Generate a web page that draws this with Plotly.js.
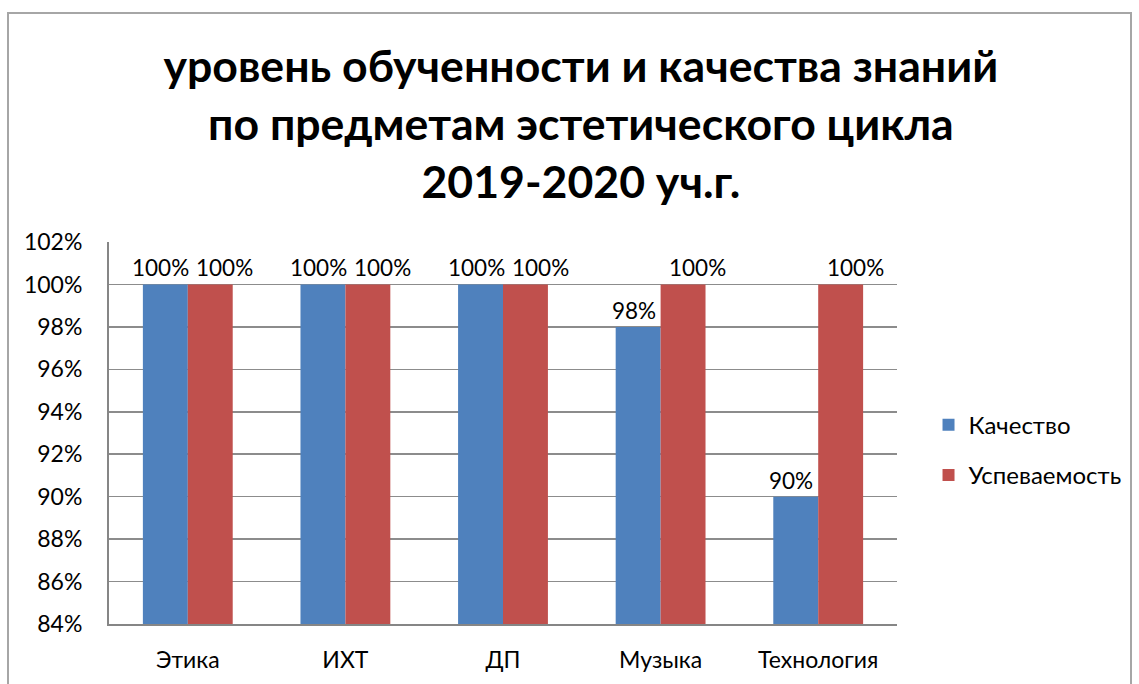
<!DOCTYPE html>
<html lang="ru">
<head>
    <meta charset="UTF-8">
    <title>Уровень обученности</title>
    <script src="https://cdn.plot.ly/plotly-3.0.1.min.js"></script>
    <style>
        body {
            margin: 0;
            background: white;
            overflow: hidden;
        }
        .frame {
            position: absolute;
            left: 7px;
            top: 12px;
            width: 1121px;
            height: 700px;
            border: 2px solid #a6a6a6;
        }
        #plot {
            position: absolute;
            left: 0;
            top: 0;
            width: 1139px;
            height: 684px;
        }
    </style>
</head>
<body>
    <div class="frame"></div>
    <div id="plot"></div>

    <script>
        const subjects = ['Этика', 'ИХТ', 'ДП', 'Музыка', 'Технология'];
        const quality = [100, 100, 100, 98, 90];
        const progress = [100, 100, 100, 100, 100];
        const yTicks = [84, 86, 88, 90, 92, 94, 96, 98, 100, 102];

        const font = 'Lato, "Open Sans", sans-serif';

        function makeTrace(name, values, color) {
            return {
                type: 'bar',
                name: name,
                legendgroup: name,
                x: subjects,
                y: values,
                marker: { color: color },
                hoverinfo: 'none'
            };
        }

        const traces = [
            makeTrace('Качество', quality, '#4f81bd'),
            makeTrace('Успеваемость', progress, '#c0504d')
        ];

        // value labels above bars, pushed a little apart like in Excel
        const labels = [];
        subjects.forEach((s, i) => {
            labels.push({
                x: s, y: quality[i], text: quality[i] + '%',
                xshift: -27, yshift: 1, yanchor: 'bottom', showarrow: false,
                font: { family: font, size: 22.5, color: '#000' }
            });
            labels.push({
                x: s, y: progress[i], text: progress[i] + '%',
                xshift: 37, yshift: 1, yanchor: 'bottom', showarrow: false,
                font: { family: font, size: 22.5, color: '#000' }
            });
        });

        const layout = {
            width: 1139,
            height: 684,
            paper_bgcolor: 'rgba(0,0,0,0)',
            plot_bgcolor: 'rgba(0,0,0,0)',
            margin: { l: 109, r: 237, t: 242, b: 60 },
            font: { family: font, size: 22, color: '#000' },
            title: {
                text: 'уровень обученности и качества знаний<br>по предметам эстетического цикла<br>2019-2020 уч.г.',
                font: { family: font, size: 44.6, color: '#000', weight: 'bold' },
                x: 0.51,
                xanchor: 'center',
                y: 0.88,
                yanchor: 'top'
            },
            barmode: 'group',
            bargap: 0.43,
            bargroupgap: 0,
            annotations: labels,
            xaxis: {
                showline: true,
                linecolor: '#868686',
                linewidth: 2,
                showgrid: false,
                ticks: '',
                ticklabelstandoff: 14,
                tickfont: { family: font, size: 23 }
            },
            yaxis: {
                range: [84, 102],
                tickvals: yTicks,
                ticktext: yTicks.map(v => v + '%'),
                showline: true,
                linecolor: '#868686',
                linewidth: 2,
                showgrid: true,
                gridcolor: '#8c8c8c',
                gridwidth: 1.5,
                zeroline: false,
                ticks: '',
                ticklabelstandoff: 20,
                tickfont: { family: font, size: 23 }
            },
            showlegend: true,
            legend: {
                x: 1.04,
                y: 0.455,
                yanchor: 'middle',
                xanchor: 'left',
                font: { family: font, size: 24 },
                tracegroupgap: 16,
                itemwidth: 30
            }
        };

        Plotly.newPlot('plot', traces, layout, { staticPlot: true, displayModeBar: false });
    </script>
</body>
</html>
